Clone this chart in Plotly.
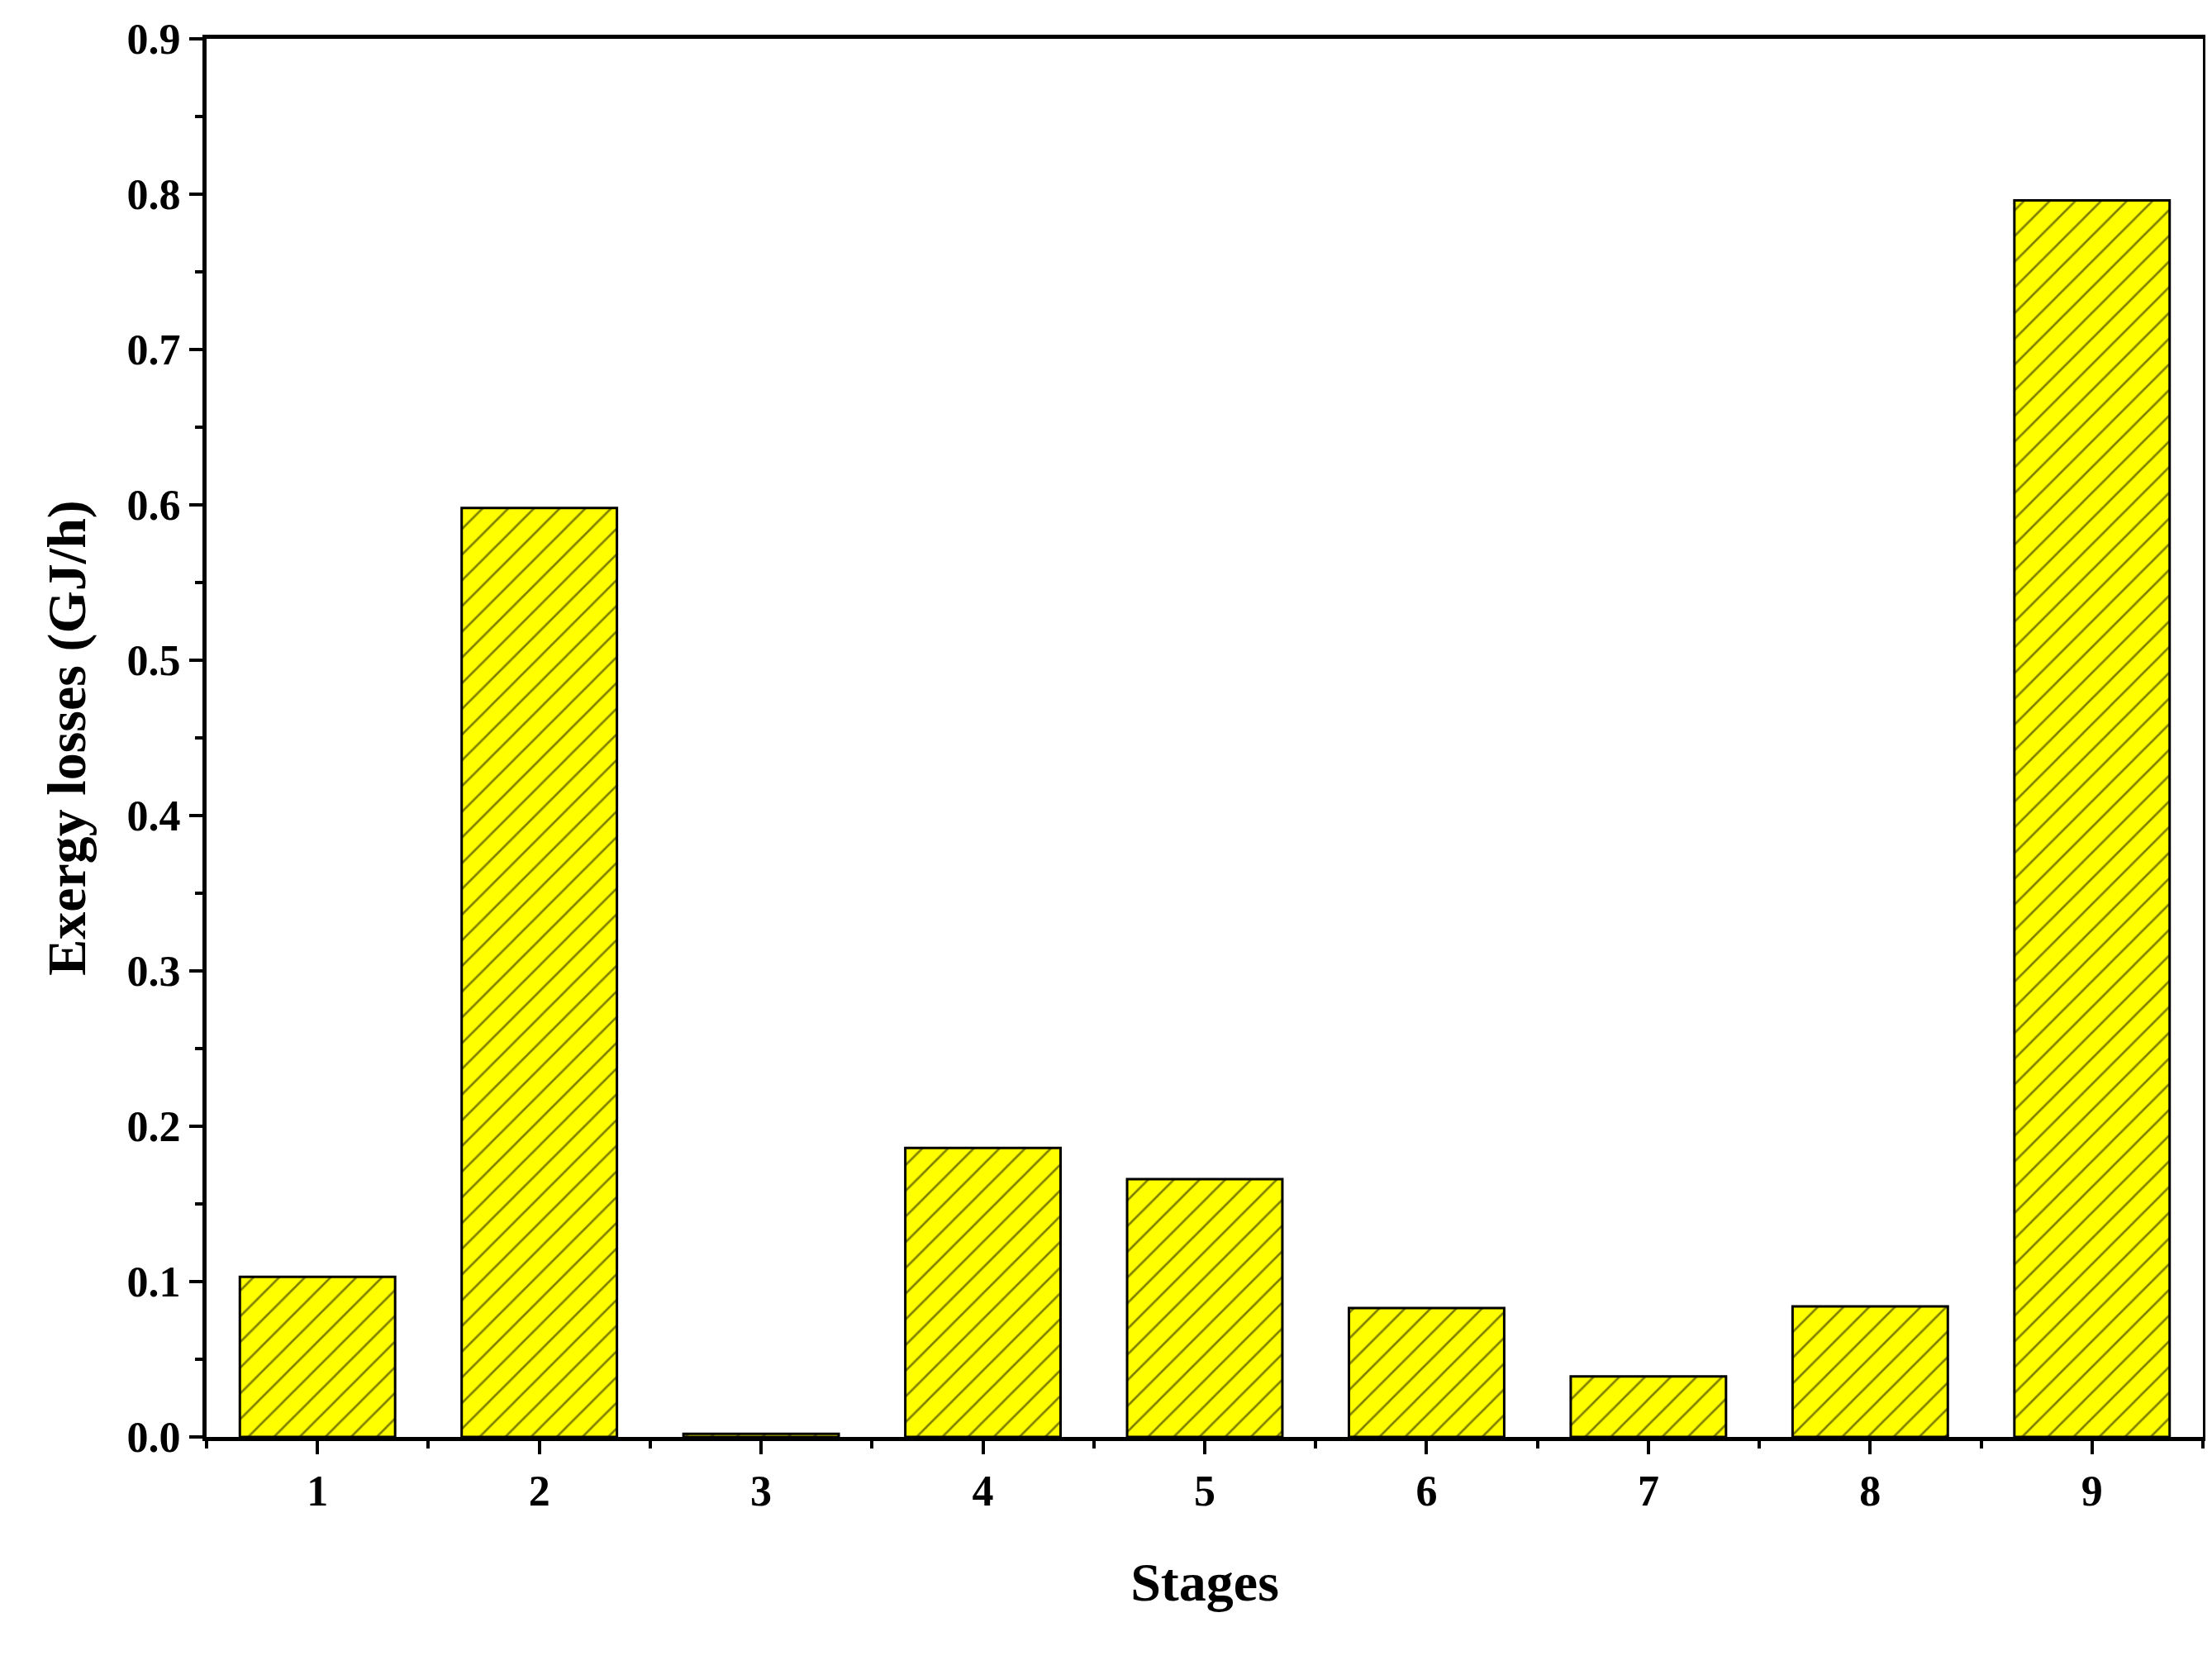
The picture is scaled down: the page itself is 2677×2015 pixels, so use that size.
import plotly.graph_objects as go

stages = [1, 2, 3, 4, 5, 6, 7, 8, 9]
losses = [0.103, 0.598, 0.002, 0.186, 0.166, 0.083, 0.039, 0.084, 0.796]

font = "Liberation Serif"

fig = go.Figure(go.Bar(
    x=stages, y=losses, width=0.7,
    marker=dict(color="#ffff00", line=dict(color="black", width=3),
                pattern=dict(shape="/", fgcolor="black", bgcolor="#ffff00",
                             size=22, solidity=0.12)),
))

axis_common = dict(showline=True, linecolor="black", linewidth=5, mirror=True,
                   ticks="outside", ticklen=16, tickwidth=4, tickcolor="black",
                   showgrid=False, zeroline=False,
                   tickfont=dict(family=font, size=52, color="black"))

fig.update_xaxes(range=[0.5, 9.5], tickmode="linear", tick0=1, dtick=1,
                 minor=dict(ticks="outside", ticklen=9, tickwidth=4, dtick=0.5, tick0=0.5,
                            tickcolor="black"),
                 title=dict(text="<b>Stages</b>", font=dict(family=font, size=66, color="black"),
                            standoff=60),
                 **axis_common)
fig.update_yaxes(range=[0, 0.9], tickmode="linear", tick0=0, dtick=0.1, tickformat=".1f",
                 minor=dict(ticks="outside", ticklen=9, tickwidth=4, dtick=0.05,
                            tickcolor="black"),
                 title=dict(text="<b>Exergy losses (GJ/h)</b>",
                            font=dict(family=font, size=66, color="black"), standoff=30),
                 **axis_common)

fig.update_layout(width=2677, height=2015, plot_bgcolor="white", paper_bgcolor="white",
                  margin=dict(l=242, r=19, t=39, b=284), showlegend=False,
                  font=dict(family=font, size=52, color="black"))
fig.for_each_xaxis(lambda a: a.update(tickprefix="<b>", ticksuffix="</b>"))
fig.for_each_yaxis(lambda a: a.update(tickprefix="<b>", ticksuffix="</b>"))

fig.write_html("out.html")
